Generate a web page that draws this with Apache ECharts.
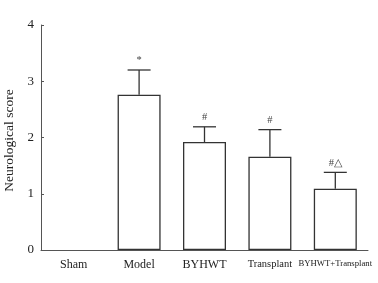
<!DOCTYPE html>
<html>
<head>
<meta charset="utf-8">
<script src="https://cdn.jsdelivr.net/npm/echarts@6/dist/echarts.min.js"></script>
<style>
  html, body { margin: 0; padding: 0; background: #fff; }
  #chart { width: 378px; height: 283px; }
</style>
</head>
<body>
<div id="chart"></div>
<script>
// groups and values
const categories = ["Sham", "Model", "BYHWT", "Transplant", "BYHWT+Transplant"];
const scores = [0, 2.76, 1.92, 1.66, 1.09];
const errTop = [null, 3.2, 2.19, 2.14, 1.38];
const marks = ["", "*", "#", "#", "#\u25B3"];
const yTicks = [0, 1, 2, 3, 4];

const font = "Liberation Serif";
const chart = echarts.init(document.getElementById("chart"));

// only the upper whisker is drawn in the figure
const errData = categories.map((c, i) => [i, scores[i], errTop[i], marks[i]]);

// a zero bar should not leave an outline on the axis
const barData = scores.map(v => v === 0 ? { value: v, itemStyle: { borderWidth: 0 } } : v);

chart.setOption({
  backgroundColor: "#fff",
  animation: false,
  grid: { left: 41, right: 10, top: 25, bottom: 33, outerBoundsMode: "none", containLabel: false },
  xAxis: {
    type: "category",
    data: categories,
    axisLine: { lineStyle: { color: "#555", width: 1 } },
    axisTick: { show: false },
    axisLabel: {
      interval: 0,
      color: "#222",
      fontFamily: font,
      margin: 9,
      fontSize: 12,
      formatter: function (v) {
        if (v === "Transplant") return "{t|" + v + "}";
        if (v === "BYHWT+Transplant") return "{b|" + v + "}";
        return v;
      },
      rich: {
        t: { fontFamily: font, fontSize: 10.5, color: "#222" },
        b: { fontFamily: font, fontSize: 8.7, color: "#222" }
      }
    }
  },
  yAxis: {
    type: "value",
    min: yTicks[0],
    max: yTicks[yTicks.length - 1],
    interval: 1,
    name: "Neurological score",
    nameLocation: "middle",
    nameGap: 22,
    nameRotate: 90,
    nameTextStyle: { color: "#222", fontFamily: font, fontSize: 13.5, padding: [0, 0, 0, -6] },
    axisLine: { show: true, lineStyle: { color: "#555", width: 1 } },
    axisTick: { show: true, inside: true, length: 3, lineStyle: { color: "#555" } },
    axisLabel: { color: "#222", fontFamily: font, fontSize: 13, margin: 7 },
    splitLine: { show: false }
  },
  series: [
    {
      type: "bar",
      data: barData,
      barWidth: 43,
      itemStyle: { color: "#fff", borderColor: "#333", borderWidth: 1.3 }
    },
    {
      type: "custom",
      data: errData,
      z: 3,
      renderItem: function (params, api) {
        if (api.value(2) == null || isNaN(api.value(2))) return;
        const base = api.coord([api.value(0), api.value(1)]);
        const top = api.coord([api.value(0), api.value(2)]);
        const half = 11.5;
        const style = { stroke: "#333", lineWidth: 1.3 };
        return {
          type: "group",
          children: [
            { type: "line", shape: { x1: base[0], y1: base[1], x2: top[0], y2: top[1] }, style: style },
            { type: "line", shape: { x1: top[0] - half, y1: top[1], x2: top[0] + half, y2: top[1] }, style: style },
            {
              type: "text",
              x: top[0],
              y: top[1] - 4,
              style: {
                text: api.value(3),
                fill: "#444",
                font: "10.5px " + font,
                align: "center",
                verticalAlign: "bottom"
              }
            }
          ]
        };
      }
    }
  ]
});
</script>
</body>
</html>
